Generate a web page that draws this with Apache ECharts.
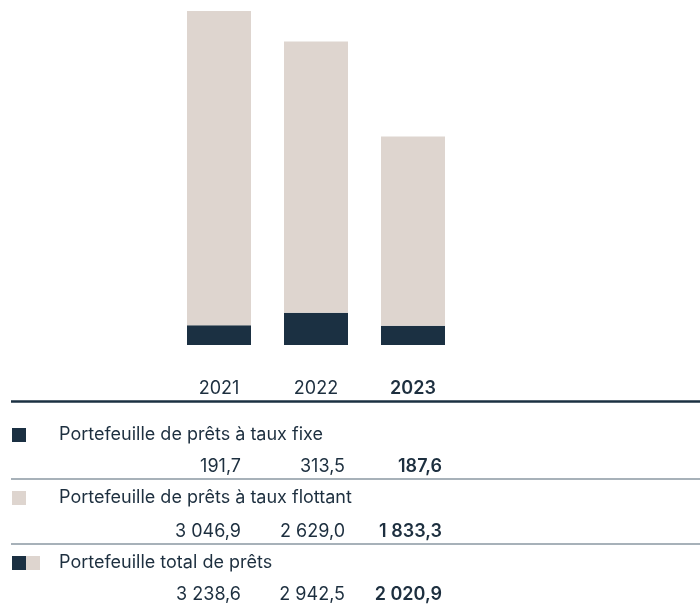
<!DOCTYPE html>
<html>
<head>
<meta charset="utf-8">
<script src="https://cdn.jsdelivr.net/npm/echarts@6/dist/echarts.min.js"></script>
<style>
  html, body { margin: 0; padding: 0; background: #fff; }
  #chart { width: 700px; height: 605px; }
</style>
</head>
<body>
<div id="chart"></div>
<script>
var years = ['2021', '2022', '2023'];
var fixedRate = [191.7, 313.5, 187.6];
var floatingRate = [3046.9, 2629.0, 1833.3];
var totalLoans = [3238.6, 2942.5, 2020.9];
var rowLabels = [
  'Portefeuille de prêts à taux fixe',
  'Portefeuille de prêts à taux flottant',
  'Portefeuille total de prêts'
];

var dark = '#1b3042';
var light = '#ded5cf';
var textColor = '#1d2f3f';
var fontFamily = 'Inter, "Noto Sans", sans-serif';
var fontSize = 18;

function fmt(v) {
  var parts = v.toFixed(1).split('.');
  var intPart = parts[0].replace(/\B(?=(\d{3})+(?!\d))/g, ' ');
  return intPart + ',' + parts[1];
}

(function () {
  var chartDom = document.getElementById('chart');
  var myChart = echarts.init(chartDom);
  var option;

  // table layout
  var colRight = [241, 345, 442];
  var rows = [
    { values: fixedRate, legendY: 435, valueY: 467, lineY: 479, swatch: [dark] },
    { values: floatingRate, legendY: 498, valueY: 532, lineY: 544, swatch: [light] },
    { values: totalLoans, legendY: 563, valueY: 595, lineY: null, swatch: [dark, light] }
  ];

  var graphics = [];
  graphics.push({
    type: 'line',
    shape: { x1: 11, y1: 401.5, x2: 700, y2: 401.5 },
    style: { stroke: dark, lineWidth: 2.5 }
  });

  rows.forEach(function (row, r) {
    row.swatch.forEach(function (c, k) {
      graphics.push({
        type: 'rect',
        shape: { x: 12 + k * 14, y: row.legendY - 7, width: 14, height: 14 },
        style: { fill: c }
      });
    });
    graphics.push({
      type: 'text',
      x: 59, y: row.legendY,
      style: {
        text: rowLabels[r], fill: textColor,
        font: fontSize + 'px ' + fontFamily, verticalAlign: 'middle', align: 'left'
      }
    });
    row.values.forEach(function (v, i) {
      graphics.push({
        type: 'text',
        x: colRight[i], y: row.valueY,
        style: {
          text: fmt(v), fill: textColor,
          font: (i === 2 ? '600 ' : '') + fontSize + 'px ' + fontFamily,
          verticalAlign: 'middle', align: 'right'
        }
      });
    });
    if (row.lineY) {
      graphics.push({
        type: 'line',
        shape: { x1: 11, y1: row.lineY, x2: 700, y2: row.lineY },
        style: { stroke: '#8a97a2', lineWidth: 1.5 }
      });
    }
  });

  option = {
    animation: false,
    grid: { left: 170.5, width: 291, top: 11, bottom: 260 },
    xAxis: {
      type: 'category',
      data: years,
      axisLine: { show: false },
      axisTick: { show: false },
      axisLabel: {
        interval: 0,
        hideOverlap: false,
        margin: 35,
        color: textColor,
        fontSize: fontSize,
        fontFamily: fontFamily,
        formatter: function (v) {
          return v === years[years.length - 1] ? '{b|' + v + '}' : v;
        },
        rich: { b: { fontWeight: 600, fontSize: fontSize, color: textColor, fontFamily: fontFamily } }
      }
    },
    yAxis: {
      type: 'value',
      min: 0,
      max: Math.max.apply(null, totalLoans),
      show: false,
      splitLine: { show: false }
    },
    series: [
      {
        name: rowLabels[0],
        type: 'bar',
        stack: 'total',
        barWidth: 64,
        itemStyle: { color: dark },
        data: fixedRate
      },
      {
        name: rowLabels[1],
        type: 'bar',
        stack: 'total',
        barWidth: 64,
        itemStyle: { color: light },
        data: floatingRate
      }
    ],
    graphic: graphics
  };

  option && myChart.setOption(option);
})();
</script>
</body>
</html>
